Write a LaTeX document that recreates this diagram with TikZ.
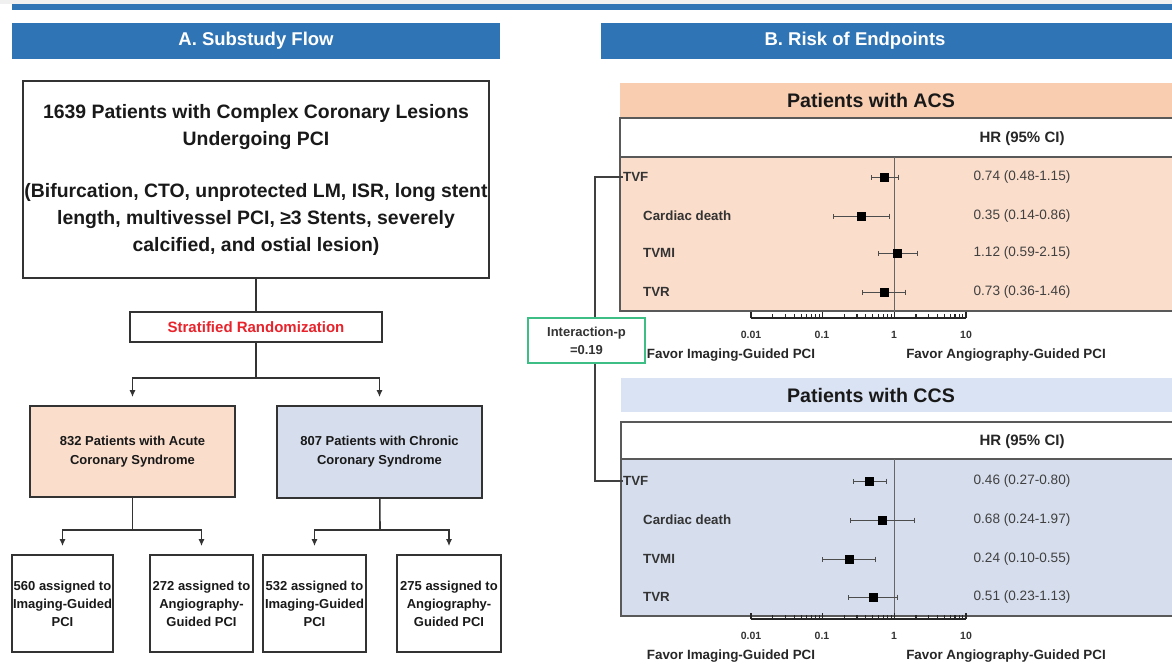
\documentclass[tikz,border=0pt]{standalone}
\usepackage{fontspec}
\setmainfont{Liberation Sans}
\usepackage{tikz}
\usetikzlibrary{arrows.meta}
\definecolor{hdblue}{HTML}{2F74B5}
\definecolor{peach}{HTML}{F8CDB0}
\definecolor{peachlt}{HTML}{FADDCB}
\definecolor{bluebar}{HTML}{DAE3F3}
\definecolor{bluelt}{HTML}{D6DEEE}
\definecolor{stratred}{HTML}{E8232B}
\definecolor{intgreen}{HTML}{3DBE85}
\newcommand\fsz[2]{\fontsize{#1}{#2}\selectfont}

\begin{document}
\begin{tikzpicture}[x=1pt, y=-1pt,
    box/.style={draw=black!80, line width=1.6pt, inner sep=0pt, align=center, text=black!90},
    head/.style={fill=hdblue, inner sep=0pt, minimum height=36pt, text=white, font=\fsz{18.5}{22}\bfseries},
    bar/.style={inner sep=0pt, minimum width=560pt},
    tbl/.style={draw=black!65, line width=1.2pt, inner sep=0pt, minimum width=560pt},
    title/.style={inner sep=0pt, font=\fsz{19.6}{22}\bfseries, text=black!90},
    hr/.style={inner sep=0pt, font=\fsz{15}{18}\bfseries, text=black!85},
    row/.style={inner sep=0pt, anchor=west, font=\fsz{13.3}{16}\bfseries, text=black!80},
    ci/.style={inner sep=0pt, font=\fsz{13.6}{16}, text=black!75},
    tick/.style={inner sep=0pt, font=\fsz{10.5}{12}\bfseries, text=black!80},
    favor/.style={inner sep=0pt, font=\fsz{13.4}{16}\bfseries, text=black!85},
    line/.style={draw=black!80, line width=1.6pt},
    arr/.style={line, -{Latex[length=7pt,width=6pt]}, shorten >=8pt},
    whisk/.style={draw=black!70, line width=.8pt, {Bar[width=5pt]}-{Bar[width=5pt]}},
    brk/.style={draw=black!75, line width=1.5pt}]
  \useasboundingbox (0,0) rectangle (1172,664);
  \fill[white] (0,0) rectangle (1172,664);
  \fill[black!6] (0,0) rectangle (1172,4);
  \fill[hdblue] (12,4) rectangle (1172,10);

  \node[head, minimum width=488pt] (hdA) at (256,41) {A. Substudy Flow};
  \node[head, minimum width=571pt] (hdB) at (886.5,41) {};
  \node[head, fill=none] (hdBt) at (855,41) {B. Risk of Endpoints};

  \node[box, minimum width=466pt, minimum height=197pt, font=\fsz{19.4}{27}\bfseries] (main) at (256,179.5)
    {1639 Patients with Complex Coronary Lesions\\Undergoing PCI\\[25pt](Bifurcation, CTO, unprotected LM, ISR, long stent\\length, multivessel PCI, ≥3 Stents, severely\\calcified, and ostial lesion)};
  \node[box, line width=1.4pt, minimum width=252pt, minimum height=30pt, text=stratred, font=\fsz{15}{18}\bfseries] (strat) at (256,327) {Stratified Randomization};
  \node[box, fill=peachlt, minimum width=205pt, minimum height=91pt, font=\fsz{13}{19}\bfseries] (acs) at (132.5,451.5) {832 Patients with Acute\\Coronary Syndrome};
  \node[box, fill=bluelt, minimum width=205pt, minimum height=92pt, font=\fsz{13}{19}\bfseries] (ccs) at (379.5,452) {807 Patients with Chronic\\Coronary Syndrome};
  \node[box, minimum width=101pt, minimum height=97pt, font=\fsz{13}{18}\bfseries] (b1) at (62.5,603.5) {560 assigned to\\Imaging-Guided\\PCI};
  \node[box, minimum width=103pt, minimum height=97pt, font=\fsz{13}{18}\bfseries] (b2) at (201.5,603.5) {272 assigned to\\Angiography-\\Guided PCI};
  \node[box, minimum width=103pt, minimum height=97pt, font=\fsz{13}{18}\bfseries] (b3) at (314.5,603.5) {532 assigned to\\Imaging-Guided\\PCI};
  \node[box, minimum width=104pt, minimum height=97pt, font=\fsz{13}{18}\bfseries] (b4) at (449,603.5) {275 assigned to\\Angiography-\\Guided PCI};

  \coordinate (sp1) at (256,378);
  \coordinate (sp2) at (132.5,530);
  \coordinate (sp3) at (380,530);
  \draw[line] (main) -- (strat);
  \draw[line] (strat) -- (sp1);
  \draw[arr] (sp1) -| (acs);
  \draw[arr] (sp1) -| (ccs);
  \draw[line] (acs) -- (sp2);
  \draw[arr] (sp2) -| (b1);
  \draw[arr] (sp2) -| (b2);
  \draw[line] (ccs) -- (sp3);
  \draw[arr] (sp3) -| (b3);
  \draw[arr] (sp3) -| (b4);

  \node[bar, fill=peach, minimum height=35pt] (acsbar) at (900,100.5) {};
  \node[title] (acstitle) at (871,100.5) {Patients with ACS};
  \node[tbl, fill=white, minimum height=39pt] (acshd) at (900,137.5) {};
  \node[hr] (acshr) at (1022,139) {HR (95\% CI)};
  \node[tbl, fill=peachlt, minimum height=154pt] (acsdat) at (900,234) {};

  \node[bar, fill=bluebar, minimum height=34pt] (ccsbar) at (901,395) {};
  \node[title] (ccstitle) at (871,395) {Patients with CCS};
  \node[tbl, fill=white, minimum height=37pt] (ccshd) at (901,440.5) {};
  \node[hr] (ccshr) at (1022,442) {HR (95\% CI)};
  \node[tbl, fill=bluelt, minimum height=157pt] (ccsdat) at (901,537.5) {};

  \draw[black!60, line width=.8pt] (894,157) -- (894,318);
  \draw[black!60, line width=.8pt] (894,459) -- (894,619);

  \foreach \lab/\lx/\y/\e/\lo/\hi/\ci [count=\i] in {TVF/623/177/0.74/0.48/1.15/{0.74 (0.48-1.15)},
      Cardiac death/643/216/0.35/0.14/0.86/{0.35 (0.14-0.86)},
      TVMI/643/253/1.12/0.59/2.15/{1.12 (0.59-2.15)},
      TVR/643/292/0.73/0.36/1.46/{0.73 (0.36-1.46)}} {
    \pgfmathsetmacro\xe{894+31.14*ln(\e)}
    \pgfmathsetmacro\xl{894+31.14*ln(\lo)}
    \pgfmathsetmacro\xh{894+31.14*ln(\hi)}
    \draw[whisk] (\xl,\y) -- (\xh,\y);
    \fill (\xe-4.5,\y-4.5) rectangle ++(9,9);
    \node[row] (a\i) at (\lx,\y) {\lab};
    \node[ci] (av\i) at (1022,\y) {\ci};
  }
  \foreach \lab/\lx/\y/\e/\lo/\hi/\ci [count=\i] in {TVF/623/481/0.46/0.27/0.80/{0.46 (0.27-0.80)},
      Cardiac death/643/520/0.68/0.24/1.97/{0.68 (0.24-1.97)},
      TVMI/643/559/0.24/0.10/0.55/{0.24 (0.10-0.55)},
      TVR/643/597/0.51/0.23/1.13/{0.51 (0.23-1.13)}} {
    \pgfmathsetmacro\xe{894+31.14*ln(\e)}
    \pgfmathsetmacro\xl{894+31.14*ln(\lo)}
    \pgfmathsetmacro\xh{894+31.14*ln(\hi)}
    \draw[whisk] (\xl,\y) -- (\xh,\y);
    \fill (\xe-4.5,\y-4.5) rectangle ++(9,9);
    \node[row] (c\i) at (\lx,\y) {\lab};
    \node[ci] (cv\i) at (1022,\y) {\ci};
  }

  \foreach \ay in {318,619} {
    \draw[black!85, line width=1.6pt] (751,\ay) -- (966,\ay);
    \foreach \d in {0,1,2}
      \foreach \m in {1,...,9} {
        \pgfmathsetmacro\tx{751+71.7*\d+31.14*ln(\m)}
        \ifnum\m=1 \def\th{6}\else\def\th{4}\fi
        \draw[black!85, line width=1.2pt] (\tx,\ay) -- (\tx,\ay-\th);
      }
    \draw[black!85, line width=1.2pt] (966,\ay) -- (966,\ay-6);
    \foreach \tv/\tl [count=\j] in {751/0.01, 822/0.1, 894/1, 966/10}
      \node[tick] (t\ay\j) at (\tv,\ay+17) {\tl};
    \node[favor] (fi\ay) at (731,\ay+37) {Favor Imaging-Guided PCI};
    \node[favor] (fa\ay) at (1006,\ay+37) {Favor Angiography-Guided PCI};
  }

  \node[draw=intgreen, line width=1.5pt, fill=white, inner sep=0pt, minimum width=117pt, minimum height=45pt,
    align=center, font=\fsz{13}{18}\bfseries, text=black!80] (ip) at (586.5,340.5) {Interaction-p\\=0.19};
  \coordinate (ka) at (595,177);
  \coordinate (kc) at (595,481);
  \draw[brk] (a1.west) -- (ka) -- (ka |- ip.north);
  \draw[brk] (ka |- ip.south) -- (kc) -- (c1.west);
\end{tikzpicture}
\end{document}
